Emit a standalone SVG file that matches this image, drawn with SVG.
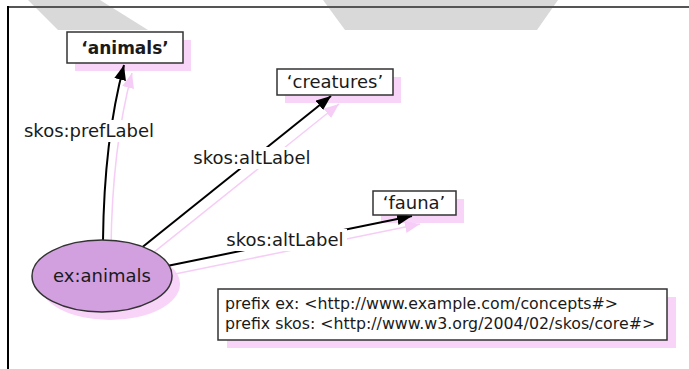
<svg xmlns="http://www.w3.org/2000/svg" width="689" height="369" viewBox="0 0 689 369">
<style>
text{font-family:"DejaVu Sans","Liberation Sans",sans-serif;fill:#1a1a1a}
.lbl{font-size:18px;text-anchor:middle}
.node{font-size:18px;text-anchor:middle}
.bold{font-weight:bold;font-size:17px}
.box{fill:#fff;stroke:#333;stroke-width:1.5}
.sh{fill:#f9d4f9;stroke:none}
.edge{fill:none;stroke:#000;stroke-width:2}
.edgesh{fill:none;stroke:#f6cdf6;stroke-width:1.5}
.pre{font-size:15.8px}
</style>
<defs>
<marker id="ah" markerUnits="userSpaceOnUse" markerWidth="16" markerHeight="12" refX="15" refY="6" orient="auto">
<path d="M0,0 L15,6 L0,12 Z" fill="#000"/>
</marker>
<marker id="ahs" markerUnits="userSpaceOnUse" markerWidth="16" markerHeight="12" refX="15" refY="6" orient="auto">
<path d="M0,0 L15,6 L0,12 Z" fill="#f6cdf6"/>
</marker>
</defs>
<rect width="689" height="369" fill="#fff"/>
<g id="background">
<polygon points="28,0 100,0 148,30 58,30" fill="#d9d9d9"/>
<polygon points="323,0 558,0 537,30 345,30" fill="#d9d9d9"/>
<line x1="8" y1="7" x2="689" y2="7" stroke="#555" stroke-width="2"/>
<line x1="8" y1="6" x2="8" y2="369" stroke="#000" stroke-width="2"/>
</g>
<g id="shadows">
<rect class="sh" x="75" y="40" width="116" height="31"/>
<rect class="sh" x="285" y="77" width="116" height="26"/>
<rect class="sh" x="381" y="199" width="83" height="24"/>
<ellipse class="sh" cx="110" cy="284" rx="70" ry="36"/>
<rect class="sh" x="227" y="297" width="449" height="51"/>
</g>
<g id="connectors">
<g transform="translate(8,8)">
<path class="edgesh" d="M103,241 Q104,140 124,65" marker-end="url(#ahs)"/>
<path class="edgesh" d="M140,249 L331,96" marker-end="url(#ahs)"/>
<path class="edgesh" d="M167,266 L412,216" marker-end="url(#ahs)"/>
</g>
<path class="edge" d="M103,241 Q104,140 124,65" marker-end="url(#ah)"/>
<path class="edge" d="M140,249 L331,96" marker-end="url(#ah)"/>
<path class="edge" d="M167,266 L412,216" marker-end="url(#ah)"/>
<rect x="27" y="120" width="126" height="22" fill="#fff"/>
<text class="lbl" x="89" y="137">skos:prefLabel</text>
<rect x="190" y="147" width="124" height="22" fill="#fff"/>
<text class="lbl" x="252" y="164">skos:altLabel</text>
<rect x="223" y="229" width="124" height="22" fill="#fff"/>
<text class="lbl" x="285" y="246">skos:altLabel</text>
</g>
<g id="n-animals-label">
<rect class="box" x="67" y="32" width="116" height="31"/>
<text class="node bold" x="125" y="54">‘animals’</text>
</g>
<g id="n-creatures">
<rect class="box" x="277" y="69" width="116" height="26"/>
<text class="node" x="335" y="88">‘creatures’</text>
</g>
<g id="n-fauna">
<rect class="box" x="373" y="191" width="83" height="24"/>
<text class="node" x="414" y="209">‘fauna’</text>
</g>
<g id="n-exanimals">
<ellipse cx="102" cy="276" rx="70" ry="36" fill="#d2a0df" stroke="#333" stroke-width="1.5"/>
<text class="node" x="102" y="282">ex:animals</text>
</g>
<g id="n-prefixes">
<rect class="box" x="218" y="289" width="449" height="51"/>
<text class="pre" x="225" y="309">prefix ex: &lt;http://www.example.com/concepts#&gt;</text>
<text class="pre" x="225" y="329">prefix skos: &lt;http://www.w3.org/2004/02/skos/core#&gt;</text>
</g>
</svg>
